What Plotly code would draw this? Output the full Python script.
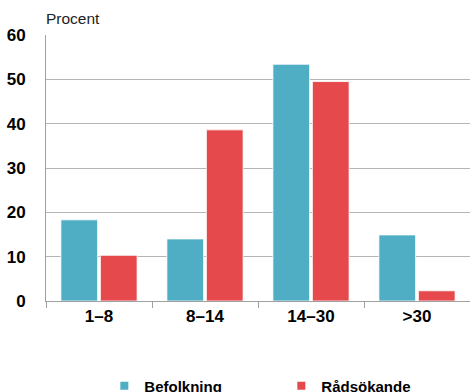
import plotly.graph_objects as go

categories = ["1–8", "8–14", "14–30", ">30"]
befolkning = [18.3, 14.0, 53.4, 14.9]
radsokande = [10.3, 38.6, 49.5, 2.3]
y_ticks = [0, 10, 20, 30, 40, 50, 60]

BLUE = "#4FAEC4"
RED = "#E5494B"
FONT = "Liberation Sans, Arial, sans-serif"

fig = go.Figure()
for name, vals, col in [("Befolkning", befolkning, BLUE), ("Rådsökande", radsokande, RED)]:
    fig.add_trace(go.Bar(
        name=name, x=categories, y=vals, showlegend=False, legendgroup=name,
        marker=dict(color=col, line=dict(color="#ffffff", width=0.8)),
    ))
# compact square legend keys
for name, col in [("Befolkning", BLUE), ("Rådsökande", RED)]:
    fig.add_trace(go.Scatter(
        name=name, x=[None], y=[None], mode="markers", legendgroup=name,
        marker=dict(symbol="square", size=8, color=col),
    ))

fig.update_layout(
    width=470, height=392,
    margin=dict(l=46, r=0, t=35, b=91),
    paper_bgcolor="white", plot_bgcolor="white",
    barmode="group", bargap=0.255, bargroupgap=0.07,
    font=dict(family=FONT, color="#000000"),
    showlegend=True,
    legend=dict(
        orientation="h", xref="container", yref="container",
        x=0.222, xanchor="left", y=0.015, yanchor="middle",
        font=dict(family=FONT, size=15, color="#000000", weight="bold"),
        entrywidth=132, entrywidthmode="pixels",
        itemwidth=30, tracegroupgap=0,
    ),
    annotations=[dict(
        text="Procent", xref="paper", yref="paper", x=0, y=1.0,
        xanchor="left", yanchor="bottom", yshift=6, xshift=-2, showarrow=False,
        font=dict(family=FONT, size=15.5, color="#222222"),
    )],
)

fig.update_xaxes(
    showline=True, linecolor="#a0a0a0", linewidth=1,
    ticks="outside", tickson="boundaries", ticklen=6, tickcolor="#a0a0a0",
    tickfont=dict(family=FONT, size=17, color="#000000", weight="bold"),
    showgrid=False,
)
fig.update_yaxes(
    range=[0, 60], tickvals=y_ticks,
    showline=True, linecolor="#a0a0a0", linewidth=1,
    showgrid=True, gridcolor="#b4b4b4", gridwidth=1,
    zeroline=False, ticks="", ticklabelstandoff=16,
    tickfont=dict(family=FONT, size=17, color="#000000", weight="bold"),
)

fig.write_html("out.html")
